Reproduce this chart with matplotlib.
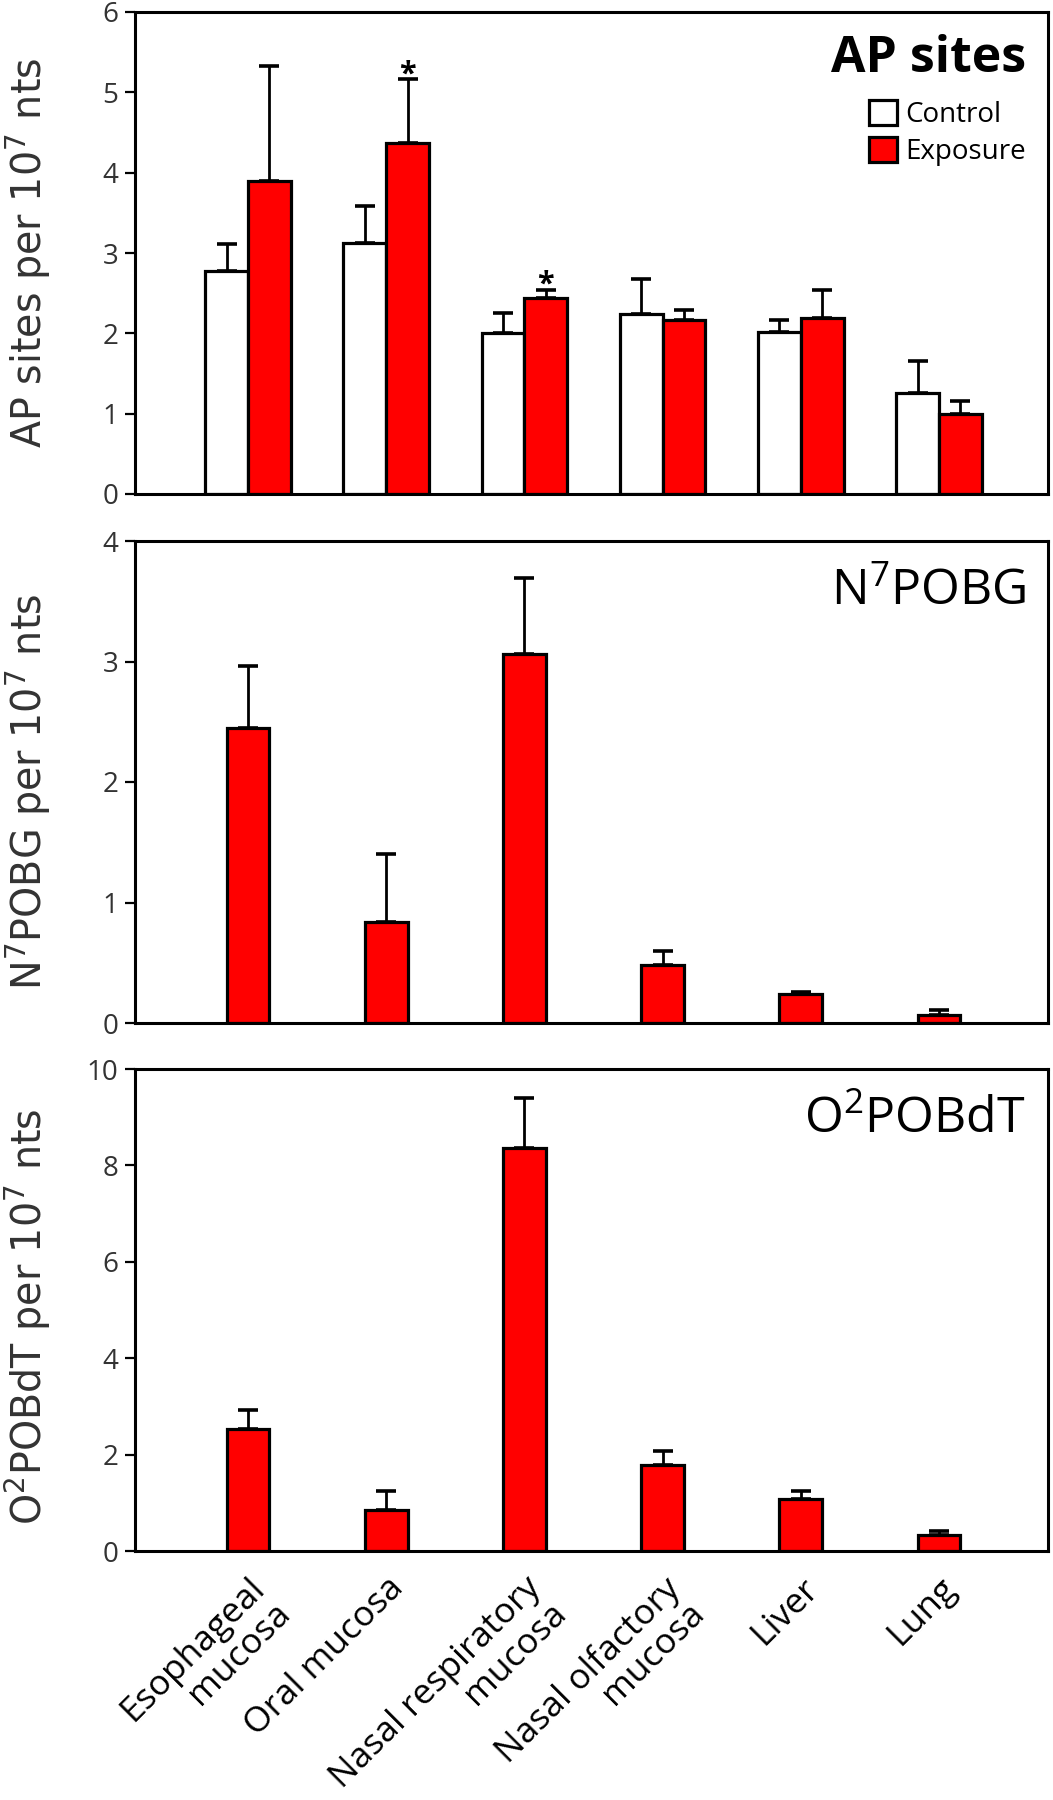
import matplotlib
matplotlib.use('Agg')
import matplotlib.pyplot as plt
import numpy as np
from matplotlib.transforms import ScaledTranslation

plt.rcParams['font.family'] = ['Open Sans', 'DejaVu Sans']

categories = ["Esophageal\nmucosa", "Oral mucosa", "Nasal respiratory\nmucosa",
              "Nasal olfactory\nmucosa", "Liver", "Lung"]

ap_control = [2.78, 3.13, 2.00, 2.24, 2.02, 1.26]
ap_control_err = [0.33, 0.45, 0.25, 0.44, 0.15, 0.40]
ap_exposure = [3.90, 4.37, 2.44, 2.17, 2.19, 1.00]
ap_exposure_err = [1.43, 0.79, 0.10, 0.12, 0.35, 0.16]
ap_significant = [False, True, True, False, False, False]

n7pobg = [2.45, 0.84, 3.06, 0.485, 0.24, 0.07]
n7pobg_err = [0.51, 0.56, 0.63, 0.115, 0.02, 0.04]

o2pobdt = [2.54, 0.86, 8.37, 1.78, 1.07, 0.34]
o2pobdt_err = [0.39, 0.38, 1.02, 0.29, 0.18, 0.07]

ap_ticks = [0, 1, 2, 3, 4, 5, 6]
n7_ticks = [0, 1, 2, 3, 4]
o2_ticks = [0, 2, 4, 6, 8, 10]

RED = '#ff0000'
GRAY = '#333333'

fig = plt.figure(figsize=(10.53, 18), dpi=100)
L, W = 135 / 1053, 913 / 1053


def axrect(top, bottom):
    return [L, 1 - bottom / 1800, W, (bottom - top) / 1800]


ax1 = fig.add_axes(axrect(12, 494))
ax2 = fig.add_axes(axrect(541, 1023))
ax3 = fig.add_axes(axrect(1069, 1551))

x = np.arange(len(categories))
bw = 0.31
zeros = np.zeros(len(categories))
ekw = dict(elinewidth=2.0, capsize=7, capthick=2.6, ecolor='black')
barkw = dict(edgecolor='black', linewidth=2.3)

b_ctrl = ax1.bar(x - bw / 2, ap_control, bw, color='white',
                 yerr=[zeros, ap_control_err], error_kw=ekw, **barkw)
b_exp = ax1.bar(x + bw / 2, ap_exposure, bw, color=RED,
                yerr=[zeros, ap_exposure_err], error_kw=ekw, **barkw)
for i, sig in enumerate(ap_significant):
    if sig:
        ax1.annotate('*', xy=(x[i] + bw / 2, ap_exposure[i] + ap_exposure_err[i]),
                     xytext=(0, -2), textcoords='offset points',
                     ha='center', va='baseline', fontsize=22, fontweight='bold')

ax2.bar(x, n7pobg, bw, color=RED, yerr=[zeros, n7pobg_err], error_kw=ekw, **barkw)
ax3.bar(x, o2pobdt, bw, color=RED, yerr=[zeros, o2pobdt_err], error_kw=ekw, **barkw)

setups = [
    (ax1, (0, 6), ap_ticks, r'AP sites per 10$^7$ nts', 0.50,
     'AP sites', 'bold', 0.875),
    (ax2, (0, 4), n7_ticks, r'N$^7$POBG per 10$^7$ nts', 0.48,
     r'N$\mathregular{^7}$POBG', 'normal', 0.867),
    (ax3, (0, 10), o2_ticks, r'O$^2$POBdT per 10$^7$ nts', 0.485,
     r'O$\mathregular{^2}$POBdT', 'normal', 0.867),
]

for ax, ylim, ticks, ylab, yc, title, weight, ty in setups:
    ax.set_xlim(-0.818, 5.789)
    ax.set_ylim(*ylim)
    ax.set_yticks(ticks)
    ax.set_xticks(x)
    ax.tick_params(axis='x', length=0, labelbottom=False)
    ax.tick_params(axis='y', direction='out', length=7, width=1.6, pad=5,
                   labelsize=20, labelcolor=GRAY)
    for s in ax.spines.values():
        s.set_linewidth(2.2)
        s.set_color('black')
    ax.set_ylabel(ylab, fontfamily='DejaVu Sans', fontsize=28.5, color=GRAY)
    ax.yaxis.set_label_coords(-0.09, yc)
    ax.text(0.976, ty, title, transform=ax.transAxes, ha='right', va='baseline',
            fontsize=36, fontweight=weight, color='black')

ax1.legend(handles=[b_ctrl, b_exp], labels=['Control', 'Exposure'],
           loc='upper left', bbox_to_anchor=((869 - 135) / 913, 1 - (100 - 12) / 482),
           frameon=False, fontsize=20, handlelength=1.0, handleheight=1.0,
           handletextpad=0.3, labelspacing=0.3, borderpad=0, borderaxespad=0)

# rotated category labels, one text per line, lines right-aligned
dx0, dy0, pitch = 0.0, 20.0, 35.0   # pixels
step = pitch / np.sqrt(2)
for xi, lab in zip(x, categories):
    for j, line in enumerate(lab.split('\n')):
        off = ScaledTranslation((dx0 + j * step) / 100, -(dy0 + j * step) / 100,
                                fig.dpi_scale_trans)
        ax3.text(xi, 0, line, transform=ax3.get_xaxis_transform() + off,
                 rotation=45, rotation_mode='anchor', ha='right', va='top',
                 fontsize=25.5, color='black')

fig.savefig('out.png', dpi=100)
